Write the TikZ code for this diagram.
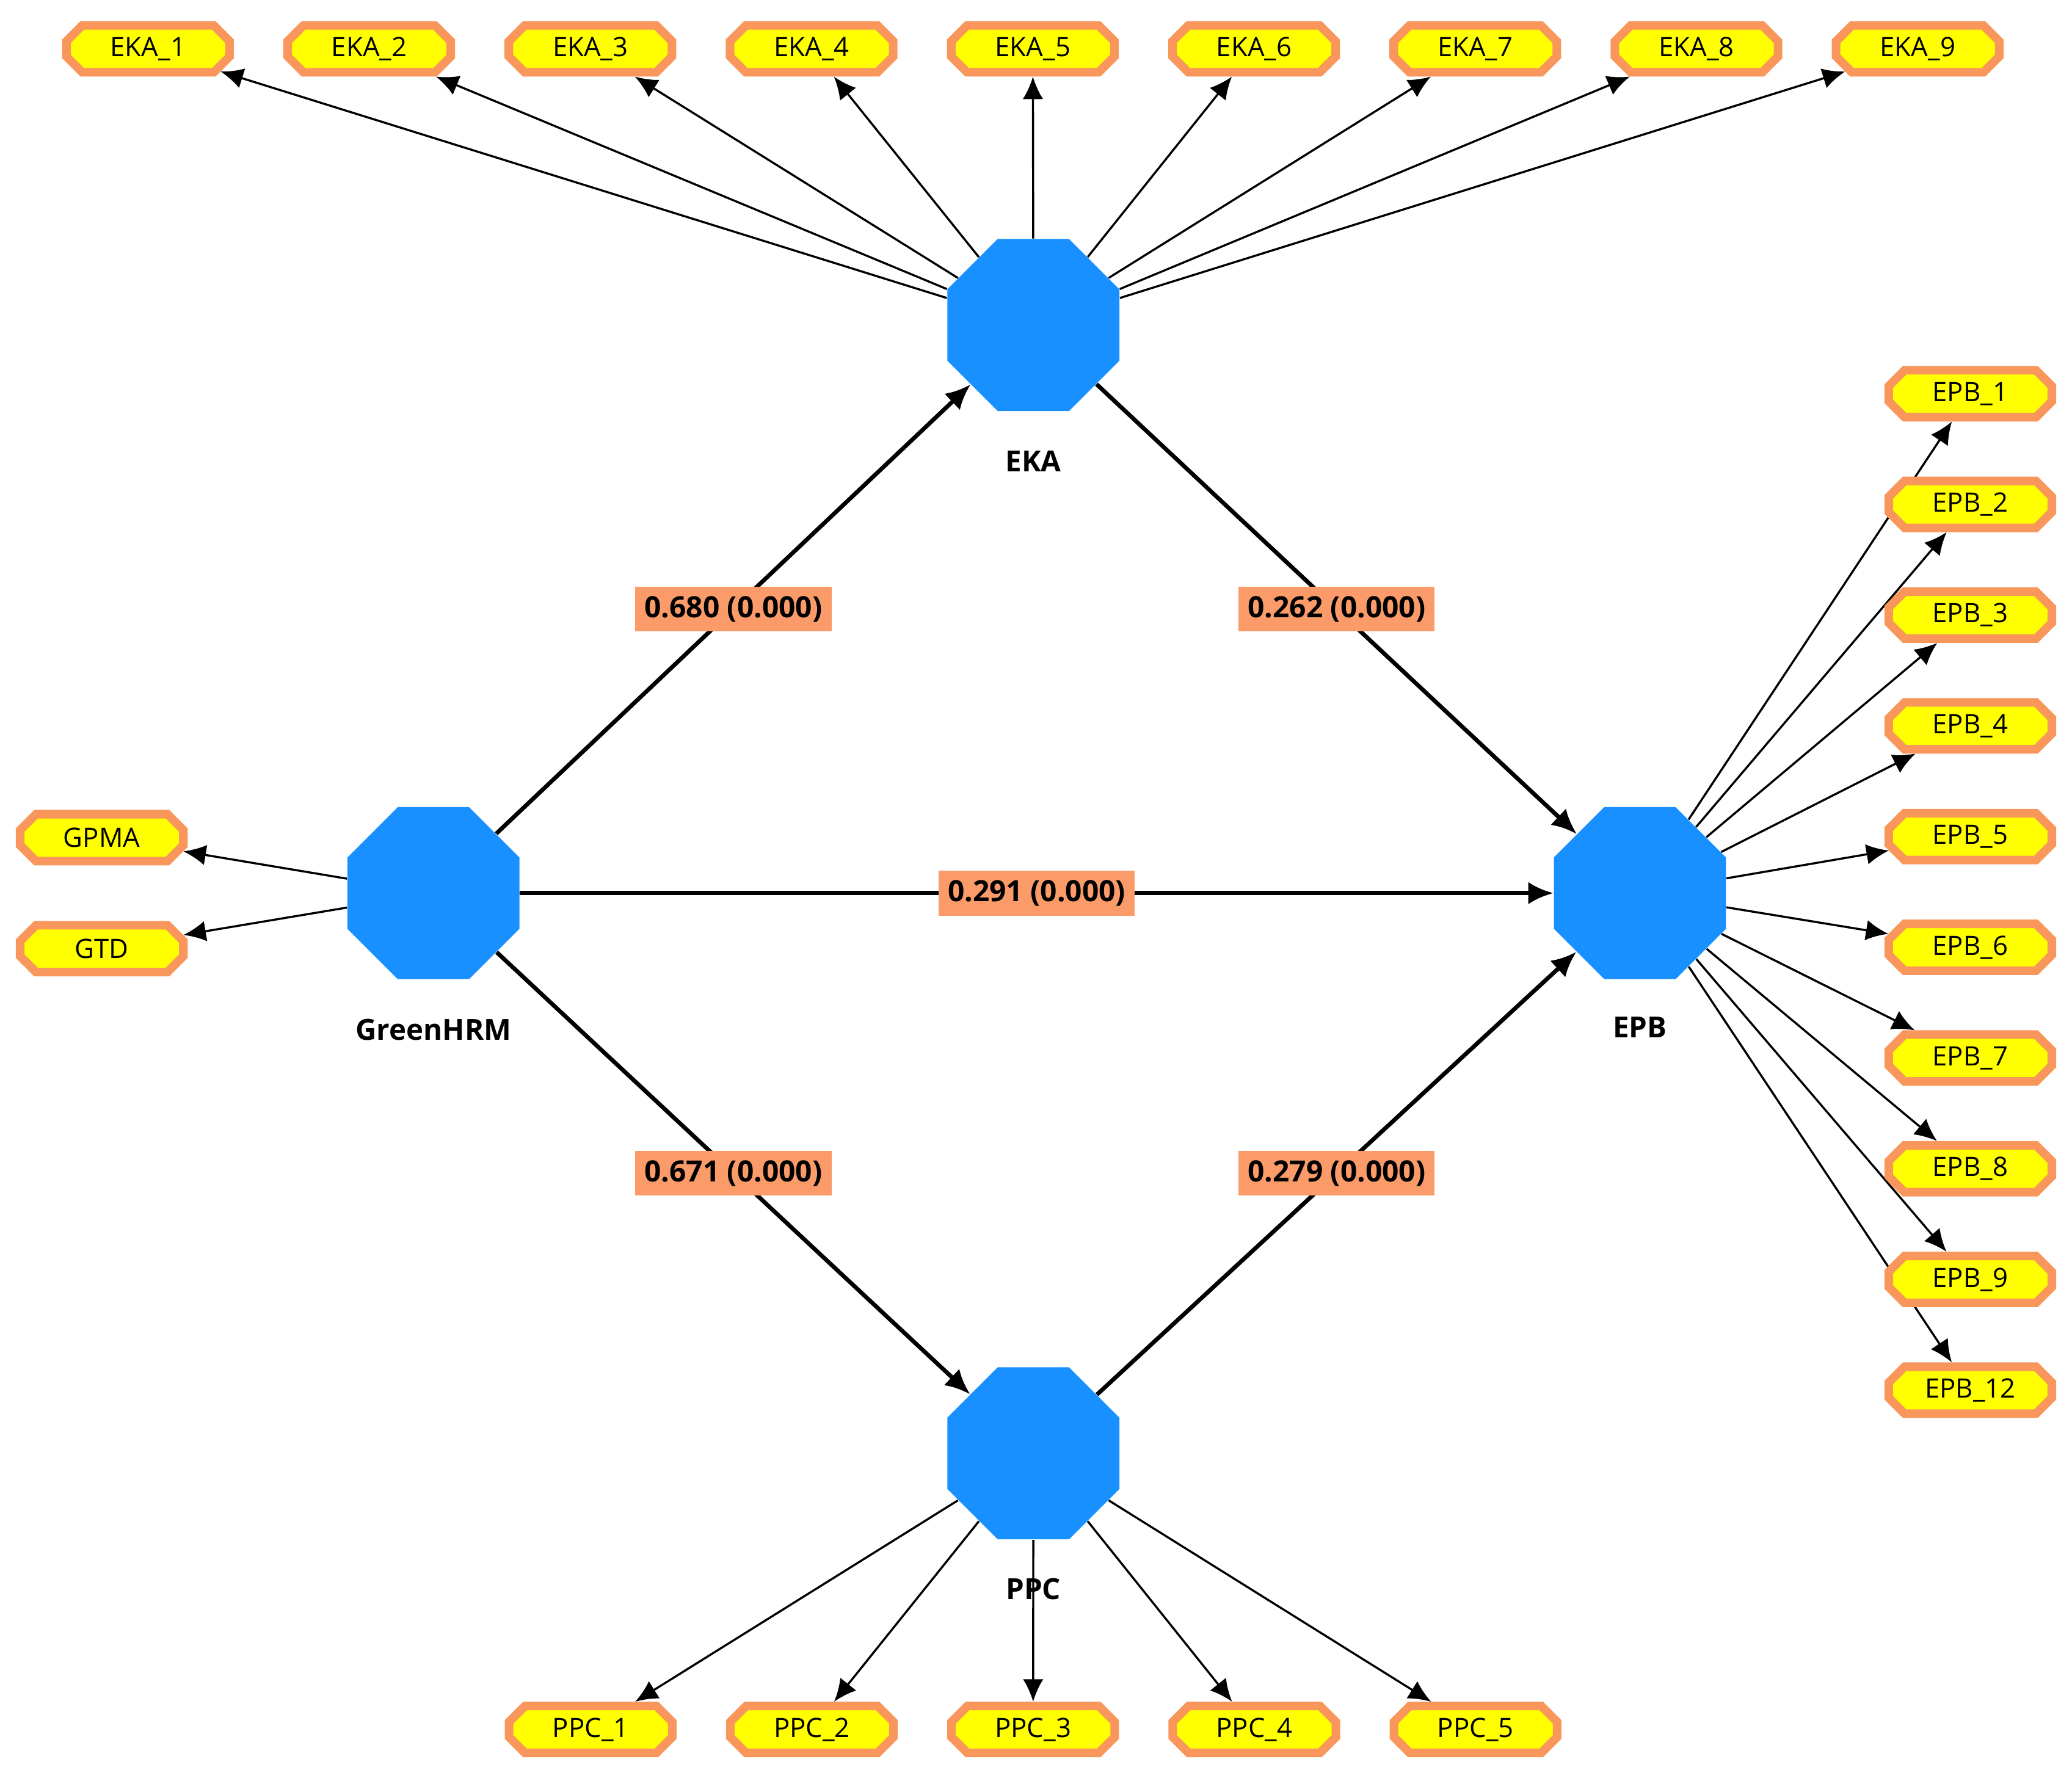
\documentclass[tikz,border=0pt]{standalone}
\usepackage{fontspec}
\setmainfont{Open Sans}
\usetikzlibrary{shapes.geometric, shapes.misc, arrows.meta, positioning, backgrounds}

\definecolor{lvblue}{RGB}{24,144,255}
\definecolor{mvorange}{RGB}{249,150,92}
\definecolor{mvyellow}{RGB}{255,255,0}
\definecolor{coeforange}{RGB}{250,155,105}

\tikzstyle{latent} = [regular polygon, regular polygon sides=8, minimum size=2.82cm, fill=lvblue, inner sep=0pt]
\tikzstyle{lvname} = [font=\fontsize{12.5}{14}\selectfont\bfseries]
\tikzstyle{indicator} = [chamfered rectangle, chamfered rectangle xsep=0.12cm, chamfered rectangle ysep=0.12cm, draw=mvorange, line width=0.13cm, fill=mvyellow, minimum width=2.47cm, minimum height=0.71cm, inner sep=0pt, font=\fontsize{11.5}{13}\selectfont]
\tikzstyle{coef} = [fill=coeforange, minimum height=0.68cm, inner xsep=0.14cm, inner ysep=0pt, font=\fontsize{12.6}{14}\selectfont\bfseries]
\tikzstyle{load} = [line width=0.9pt, -{Latex[length=3.4mm,width=3.1mm]}]
\tikzstyle{relation} = [line width=1.8pt, -{Latex[length=3.8mm,width=3.4mm]}]

\begin{document}
\begin{tikzpicture}[x=0.02cm, y=-0.02cm]
\useasboundingbox (0,0) rectangle (1568,1348);

% constructs
\node (ghrm) [latent] at (328,676) {};
\node (eka) [latent] at (782,246) {};
\node (epb) [latent] at (1241,676) {};
\node (ppc) [latent] at (782,1100) {};

\node (ghrmname) [lvname, below=0.47cm of ghrm] {GreenHRM};
\node (ekaname) [lvname, below=0.47cm of eka] {EKA};
\node (epbname) [lvname, below=0.44cm of epb] {EPB};
\node (ppcname) [lvname, below=0.46cm of ppc] {PPC};

% indicators
\foreach \i in {1,...,9}
  \node (eka\i) [indicator] at ({112+(\i-1)*167.4},37) {EKA\_\i};
\foreach \n [count=\k] in {1,2,3,4,5,6,7,8,9,12}
  \node (epb\n) [indicator] at (1491,{298+(\k-1)*83.8}) {EPB\_\n};
\foreach \i in {1,...,5}
  \node (ppc\i) [indicator] at ({447+(\i-1)*167.4},1309) {PPC\_\i};
\node (gpma) [indicator] at (77,634) {GPMA};
\node (gtd) [indicator] at (77,718) {GTD};

\begin{scope}[on background layer]
\foreach \i in {1,...,9}
  \draw [load] (eka) -- (eka\i);
\foreach \n in {1,2,3,4,5,6,7,8,9,12}
  \draw [load] (epb) -- (epb\n);
\foreach \i in {1,...,5}
  \draw [load] (ppc) -- (ppc\i);
\draw [load] (ghrm) -- (gpma);
\draw [load] (ghrm) -- (gtd);
\end{scope}

% structural paths
\draw [relation] (ghrm) -- node (c680) [coef] {0.680 (0.000)} (eka);
\draw [relation] (eka) -- node (c262) [coef] {0.262 (0.000)} (epb);
\draw [relation] (ghrm) -- node (c291) [coef] {0.291 (0.000)} (epb);
\draw [relation] (ghrm) -- node (c671) [coef] {0.671 (0.000)} (ppc);
\draw [relation] (ppc) -- node (c279) [coef] {0.279 (0.000)} (epb);
\end{tikzpicture}
\end{document}
